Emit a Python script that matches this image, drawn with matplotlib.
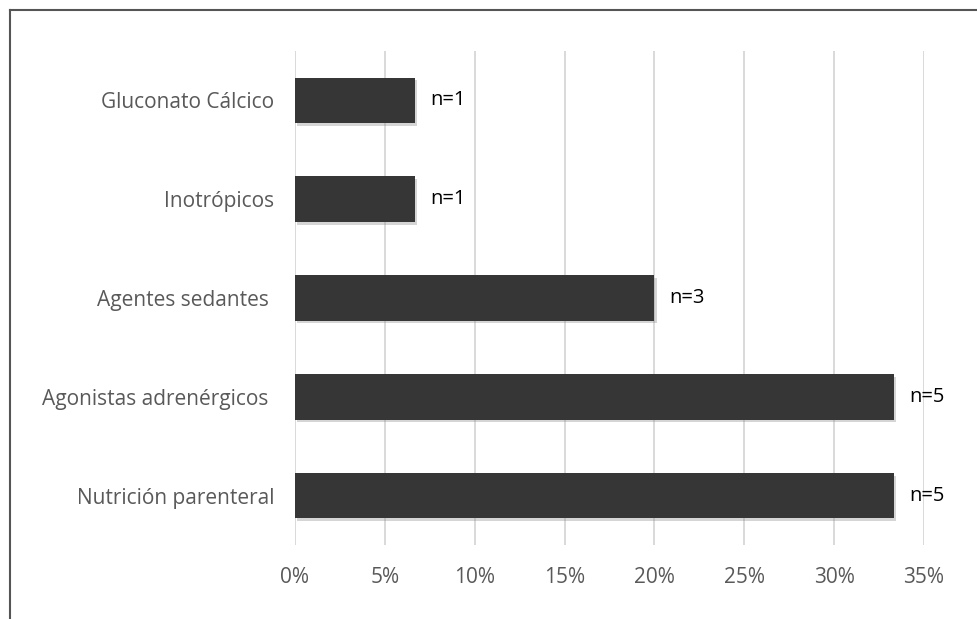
import numpy as np
import matplotlib
matplotlib.use("Agg")
import matplotlib.pyplot as plt
import matplotlib.patheffects as pe
from matplotlib.lines import Line2D
from matplotlib.ticker import PercentFormatter

# data (bottom to top)
categories = ["Nutrición parenteral", "Agonistas adrenérgicos ", "Agentes sedantes ",
              "Inotrópicos", "Gluconato Cálcico"]
counts = [5, 5, 3, 1, 1]
total = 15
percent = [100 * c / total for c in counts]
xticks = [0, 5, 10, 15, 20, 25, 30, 35]

plt.rcParams['font.family'] = ['Open Sans', 'DejaVu Sans']

fig = plt.figure(figsize=(9.78, 6.19), dpi=100)
ax = fig.add_axes([0.3016, 0.1196, 0.6432, 0.798])

y = np.arange(len(categories))
bars = ax.barh(y, percent, height=0.46, color='#363636', zorder=3)
for b in bars:
    b.set_path_effects([pe.SimplePatchShadow(offset=(1.5, -2), shadow_rgbFace='#888888', alpha=0.35),
                        pe.Normal()])

for yi, p, c in zip(y, percent, counts):
    ax.annotate(f"n={c}", (p, yi), xytext=(11, 0), textcoords='offset points',
                va='center', ha='left', fontsize=14.5, color='black', zorder=4)

ax.set_xlim(0, 35)
ax.set_ylim(-0.5, len(categories) - 0.5)
ax.set_xticks(xticks)
ax.xaxis.set_major_formatter(PercentFormatter(decimals=0))
ax.set_yticks(y)
ax.set_yticklabels(categories)
ax.grid(axis='x', color='#d9d9d9', linewidth=1.4, zorder=0)
ax.set_axisbelow(True)
for s in ax.spines.values():
    s.set_visible(False)
ax.tick_params(axis='both', length=0, labelsize=15, labelcolor='#595959')
ax.tick_params(axis='x', pad=16)
ax.tick_params(axis='y', pad=15)

# frame lines on top and left of the picture
fig.add_artist(Line2D([0.0105, 1.0], [0.984, 0.984], color='#555555', linewidth=1.5))
fig.add_artist(Line2D([0.0105, 0.0105], [0.0, 0.984], color='#555555', linewidth=1.5))

fig.savefig("out.png", dpi=100)
